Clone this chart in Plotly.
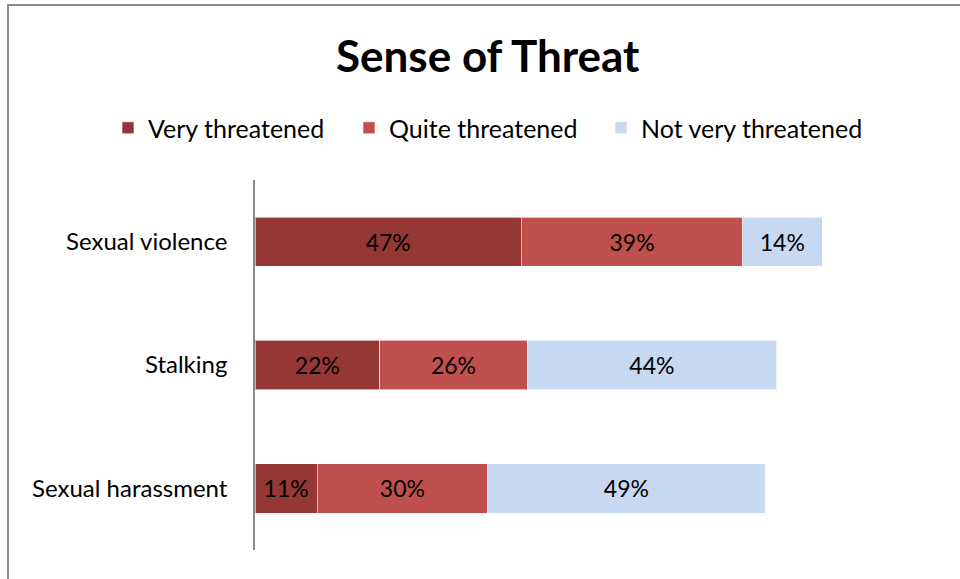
import plotly.graph_objects as go

categories = ["Sexual violence", "Stalking", "Sexual harassment"]
very = [47, 22, 11]
quite = [39, 26, 30]
not_very = [14, 44, 49]
series_names = ["Very threatened", "Quite threatened", "Not very threatened"]
colors = ["#953735", "#C0504D", "#C6D9F1"]

W, H = 960, 579
L, R, T, B = 255, 138, 180, 29
pw = W - L - R
ph = H - T - B

legend_ids = ["legend", "legend2", "legend3"]
legend_x_px = [108, 349, 601]

fig = go.Figure()
for name, vals, c, lg in zip(series_names, [very, quite, not_very], colors, legend_ids):
    fig.add_trace(go.Bar(
        y=categories, x=vals, name=name, orientation="h", legend=lg,
        marker=dict(color=c, line=dict(color="rgba(255,255,255,0.6)", width=1)),
        text=[f"{v}%" for v in vals], textposition="inside",
        insidetextanchor="middle", textangle=0,
        textfont=dict(family="Lato, sans-serif", size=23, color="black"),
    ))

def px2x(px):
    return (px - L) / pw
def py2y(py):
    return 1 - (py - T) / ph

# chart border (gray, left and top visible)
fig.add_shape(type="rect", xref="paper", yref="paper",
              x0=px2x(8), x1=px2x(990), y0=py2y(5), y1=py2y(600),
              line=dict(color="#8c8c8c", width=2), layer="below")

legend_common = dict(orientation="h", xref="container", xanchor="left",
                     yref="container", y=1 - 128 / H, yanchor="middle",
                     font=dict(family="Lato, sans-serif", size=25, color="black"),
                     bgcolor="rgba(0,0,0,0)")

fig.update_layout(
    width=W, height=H,
    margin=dict(l=L, r=R, t=T, b=B),
    barmode="stack", bargap=0.6,
    paper_bgcolor="white", plot_bgcolor="white",
    title=dict(text="<b>Sense of Threat</b>", x=0.508, xanchor="center",
               y=1 - 57 / H, yanchor="middle",
               font=dict(family="Lato, sans-serif", size=44, color="black")),
    legend=dict(x=legend_x_px[0] / W, **legend_common),
    legend2=dict(x=legend_x_px[1] / W, **legend_common),
    legend3=dict(x=legend_x_px[2] / W, **legend_common),
    showlegend=True,
    font=dict(family="Lato, sans-serif"),
)
fig.update_xaxes(range=[0, 100], visible=False, showgrid=False, zeroline=False)
fig.update_yaxes(categoryorder="array", categoryarray=categories, autorange="reversed",
                 showline=True, linecolor="#888888", linewidth=1.5, ticks="",
                 showgrid=False, ticklabelstandoff=21,
                 tickfont=dict(family="Lato, sans-serif", size=24, color="black"))

fig.write_html("out.html", config={"displayModeBar": False},
               post_script="document.body.style.margin='0';")
